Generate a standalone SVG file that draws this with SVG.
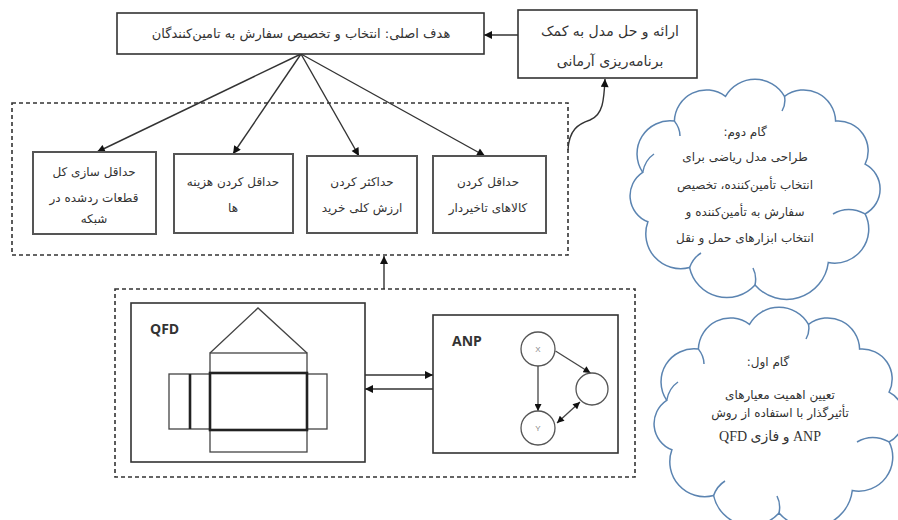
<svg xmlns="http://www.w3.org/2000/svg" width="898" height="520" viewBox="0 0 898 520">
<defs>
<style>
.bg{fill:#ffffff}
.box{fill:#ffffff;stroke:#333333;stroke-width:1.6}
.cbox{fill:#ffffff;stroke:#555555;stroke-width:2}
.dash{fill:none;stroke:#333333;stroke-width:1.6;stroke-dasharray:4 3}
.ln{fill:none;stroke:#333333;stroke-width:1.4}
.thin{fill:none;stroke:#444444;stroke-width:1.3}
.thick{fill:none;stroke:#222222;stroke-width:2.6}
.circ{fill:#ffffff;stroke:#555555;stroke-width:1.3}
.cloud{fill:#ffffff;stroke:#5b84b1;stroke-width:1.5}
.crease{fill:none;stroke:#5b84b1;stroke-width:1.5}
.fa{font-family:'DejaVu Sans','Noto Sans',sans-serif;fill:#333333;text-anchor:middle;direction:rtl}
.faser{font-family:'Liberation Serif','DejaVu Sans',serif;fill:#333333;text-anchor:middle;direction:rtl;font-size:14px}
.t14{font-size:14px}
.t13{font-size:13px}
.t12{font-size:12px}
.lat{font-family:'Open Sans','Liberation Sans',sans-serif;font-weight:700;font-size:14px;fill:#333333}
.sm{font-family:'Liberation Sans',sans-serif;font-size:8px;fill:#888888;text-anchor:middle}
</style>
<marker id="ah" viewBox="0 0 10 10" refX="10" refY="5" markerWidth="9" markerHeight="8" markerUnits="userSpaceOnUse" orient="auto-start-reverse">
<path d="M0,0 L10,5 L0,10 z" fill="#111111"/>
</marker>
<marker id="ahs" viewBox="0 0 10 10" refX="10" refY="5" markerWidth="8" markerHeight="7" markerUnits="userSpaceOnUse" orient="auto-start-reverse">
<path d="M0,0 L10,5 L0,10 z" fill="#111111"/>
</marker>
<path id="cloudShape" d="M642.7 172.3 A33 33 0 0 1 674.4 121.1 A32 32 0 0 1 725.5 96.3 A34 34 0 0 1 784.5 96.3 A32 32 0 0 1 835.6 121.1 A30 30 0 0 1 865.1 164.2 A28 28 0 0 1 865.1 213.8 A34 34 0 0 1 828.3 262.5 A42 42 0 0 1 755 285 A38 38 0 0 1 689.6 267.6 A35 35 0 0 1 647.9 221.8 A28 28 0 0 1 642.7 172.3 Z"/>
<path id="cloudCrease" d="M642.7 172.3 Q645 160 654 154 M674.4 121.1 Q680 128 680 136 M784.5 96.3 Q786 104 782 111 M865.1 213.8 Q848 205 833 214 M755 285 Q757 276 753 268 M689.6 267.6 Q693 258 701 253"/>
</defs>
<rect class="bg" x="0" y="0" width="898" height="520"/>

<g id="connectors">
<line class="ln" x1="518" y1="35" x2="484" y2="35" marker-end="url(#ah)"/>
<line class="ln" x1="301" y1="54" x2="97" y2="152" marker-end="url(#ah)"/>
<line class="ln" x1="301" y1="54" x2="233" y2="154" marker-end="url(#ah)"/>
<line class="ln" x1="301" y1="54" x2="359" y2="156" marker-end="url(#ah)"/>
<line class="ln" x1="301" y1="54" x2="485" y2="156" marker-end="url(#ah)"/>
<path class="ln" d="M568 150 C569 130 578 124 590 120 C603 115 604 100 605 79" marker-end="url(#ah)"/>
<line class="ln" x1="384" y1="289" x2="384" y2="256" marker-end="url(#ah)"/>
<line class="ln" x1="365" y1="375" x2="433" y2="375" marker-end="url(#ah)"/>
<line class="ln" x1="433" y1="389" x2="365" y2="389" marker-end="url(#ah)"/>
</g>

<g id="goal">
<rect class="box" x="117" y="13" width="367" height="41"/>
<text class="fa t13" x="301" y="38">هدف اصلی: انتخاب و تخصیص سفارش به تامین‌کنندگان</text>
</g>

<g id="goal-programming">
<rect class="box" x="518" y="10" width="179" height="68"/>
<text class="fa t14" x="610" y="36">ارائه و حل مدل به کمک</text>
<text class="fa t14" x="610" y="66">برنامه‌ریزی آرمانی</text>
</g>

<g id="objectives">
<rect class="dash" x="12" y="103" width="556" height="152"/>
</g>

<g id="obj-rejected">
<rect class="cbox" x="33" y="152" width="123" height="82"/>
<text class="fa t12" x="94" y="176">حداقل سازی کل</text>
<text class="fa t12" x="94" y="202">قطعات ردشده در</text>
<text class="fa t12" x="94" y="223">شبکه</text>
</g>

<g id="obj-cost">
<rect class="cbox" x="174" y="154" width="119" height="79"/>
<text class="fa t12" x="233" y="186">حداقل کردن هزینه</text>
<text class="fa t12" x="233" y="212">ها</text>
</g>

<g id="obj-value">
<rect class="cbox" x="307" y="156" width="110" height="77"/>
<text class="fa t12" x="362" y="186">حداکثر کردن</text>
<text class="fa t12" x="362" y="212">ارزش کلی خرید</text>
</g>

<g id="obj-delay">
<rect class="cbox" x="433" y="156" width="113" height="77"/>
<text class="fa t12" x="488" y="186">حداقل کردن</text>
<text class="fa t12" x="488" y="212">کالاهای تاخیردار</text>
</g>

<g id="methods">
<rect class="dash" x="115" y="289" width="520" height="188"/>
</g>

<g id="qfd">
<rect class="box" x="131" y="303" width="234" height="159"/>
<text class="lat" x="150" y="334">QFD</text>
<polyline class="thin" points="210,353 258,308 307,353"/>
<rect class="thin" x="210" y="353" width="97" height="20"/>
<rect class="thin" x="169" y="374" width="41" height="55"/>
<rect class="thin" x="307" y="374" width="20" height="55"/>
<rect class="thin" x="210" y="430" width="97" height="22"/>
<rect class="thick" x="210" y="373" width="97" height="57"/>
<line class="thick" x1="190" y1="374" x2="190" y2="429"/>
</g>

<g id="anp">
<rect class="box" x="433" y="315" width="185" height="138"/>
<text class="lat" x="452" y="346">ANP</text>
<line class="thin" x1="555.5" y1="351" x2="590.5" y2="373" marker-end="url(#ahs)"/>
<line class="thin" x1="538" y1="366" x2="538" y2="411" marker-end="url(#ahs)"/>
<line class="thin" x1="557" y1="423" x2="580" y2="402" marker-start="url(#ahs)" marker-end="url(#ahs)"/>
<circle class="circ" cx="538" cy="349" r="17"/>
<circle class="circ" cx="592" cy="389" r="16"/>
<circle class="circ" cx="538" cy="428" r="17"/>
<text class="sm" x="538" y="352">X</text>
<text class="sm" x="538" y="431">Y</text>
</g>

<g id="step2">
<use href="#cloudShape" class="cloud"/>
<use href="#cloudCrease" class="crease"/>
<text class="fa t12" x="745" y="136">گام دوم:</text>
<text class="fa t12" x="745" y="161">طراحی مدل ریاضی برای</text>
<text class="fa t12" x="745" y="189">انتخاب تأمین‌کننده، تخصیص</text>
<text class="fa t12" x="745" y="216">سفارش به تأمین‌کننده و</text>
<text class="fa t12" x="745" y="242">انتخاب ابزارهای حمل و نقل</text>
</g>

<g id="step1">
<use href="#cloudShape" class="cloud" transform="translate(24 228)"/>
<use href="#cloudCrease" class="crease" transform="translate(24 228)"/>
<text class="fa t12" x="768" y="366">گام اول:</text>
<text class="fa t12" x="780" y="399">تعیین اهمیت معیارهای</text>
<text class="fa t12" x="780" y="417">تأثیرگذار با استفاده از روش</text>
<text class="faser" x="770" y="441">ANP و فازی QFD</text>
</g>
</svg>
